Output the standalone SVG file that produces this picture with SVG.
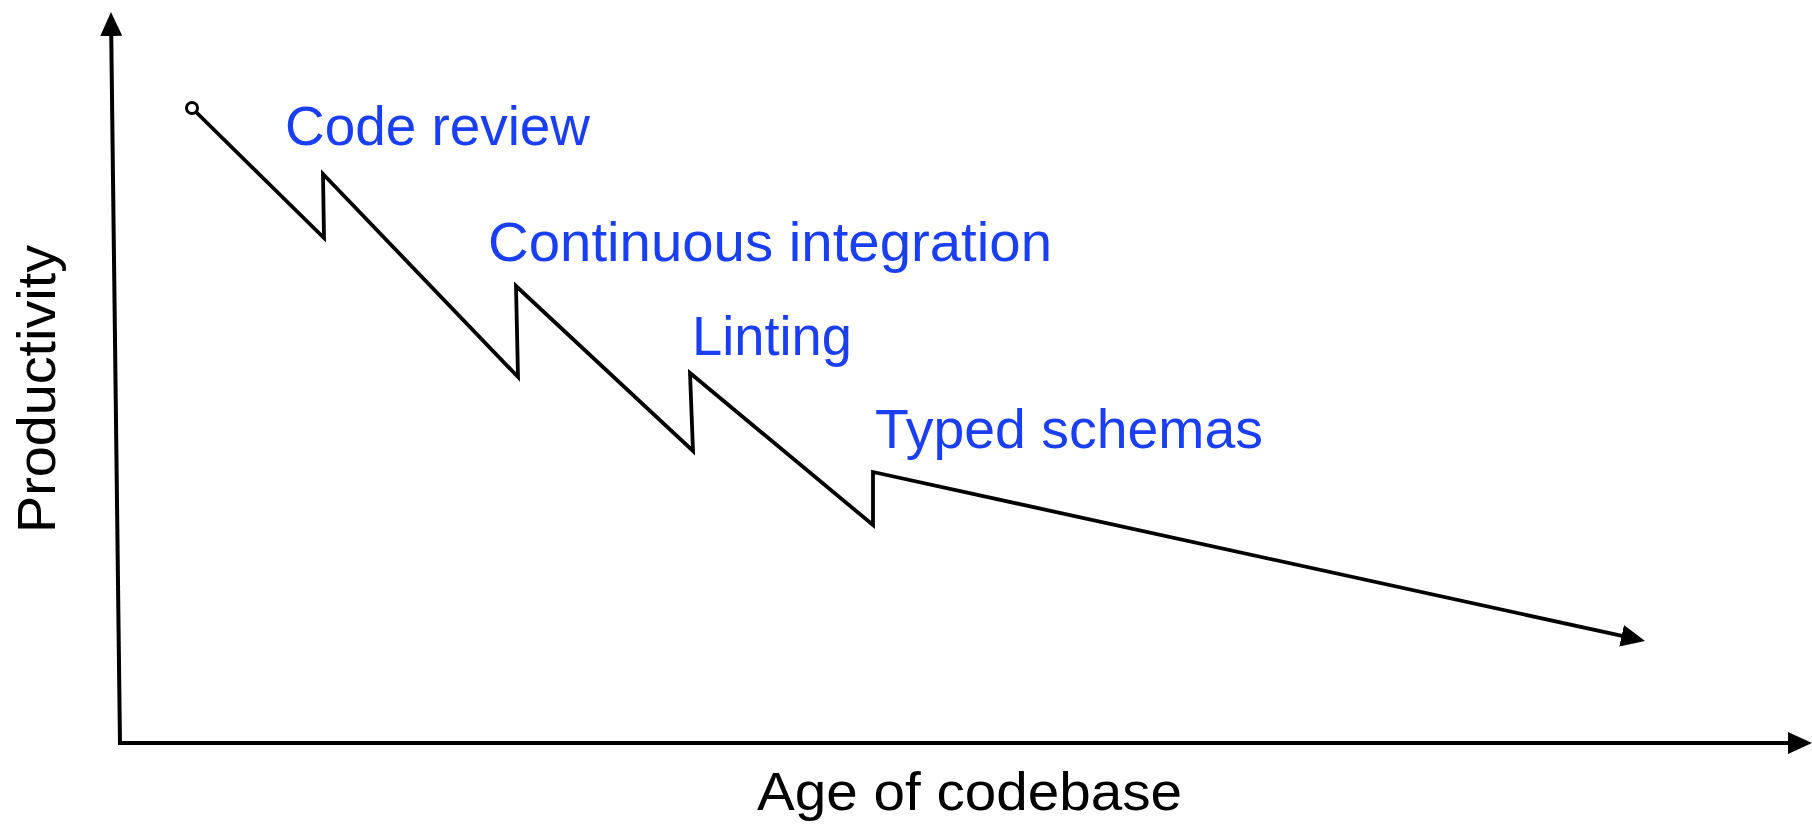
<svg xmlns="http://www.w3.org/2000/svg" width="1812" height="826" viewBox="0 0 1812 826">
  <style>
    .ax { fill: none; stroke: #000; stroke-width: 4; }
    .curve { fill: none; stroke: #000; stroke-width: 3.8; stroke-linejoin: miter; stroke-miterlimit: 20; }
    .lbl { font-family: "Liberation Sans", Arial, Helvetica, sans-serif; font-size: 55px; fill: #1a3ff2; }
    .axlbl { font-family: "Liberation Sans", Arial, Helvetica, sans-serif; font-size: 54px; fill: #000; }
  </style>
  <defs>
    <marker id="arrow" viewBox="0 0 24 22" refX="4" refY="11" markerWidth="24" markerHeight="22" markerUnits="userSpaceOnUse" orient="auto">
      <path d="M0,0 L24,11 L0,22 z" fill="#000"/>
    </marker>
  </defs>
  <rect width="1812" height="826" fill="#fff"/>
  <g id="connectors">
    <path id="y-axis" class="ax" d="M120,745 L111.2,32" marker-end="url(#arrow)"/>
    <path id="x-axis" class="ax" d="M118,743 L1792,743" marker-end="url(#arrow)"/>
    <path id="productivity-curve" class="curve" d="M196,112 L324,238 L323,174 L518,377 L516,286 L693,451 L690,373 L873,525 L873,472 L1625.5,636.7" marker-end="url(#arrow)"/>
    <circle id="start-point" cx="192" cy="108" r="5.5" fill="#fff" stroke="#000" stroke-width="3"/>
  </g>
  <g id="label-code-review"><text class="lbl" x="285" y="145" textLength="305" lengthAdjust="spacingAndGlyphs">Code review</text></g>
  <g id="label-ci"><text class="lbl" x="488" y="261" textLength="564" lengthAdjust="spacingAndGlyphs">Continuous integration</text></g>
  <g id="label-linting"><text class="lbl" x="692" y="355" textLength="160" lengthAdjust="spacingAndGlyphs">Linting</text></g>
  <g id="label-typed-schemas"><text class="lbl" x="875" y="448" textLength="388" lengthAdjust="spacingAndGlyphs">Typed schemas</text></g>
  <g id="x-axis-label"><text class="axlbl" x="757" y="810" textLength="425" lengthAdjust="spacingAndGlyphs">Age of codebase</text></g>
  <g id="y-axis-label"><text class="axlbl" transform="translate(55,533) rotate(-90)" x="0" y="0" textLength="288" lengthAdjust="spacingAndGlyphs">Productivity</text></g>
</svg>
